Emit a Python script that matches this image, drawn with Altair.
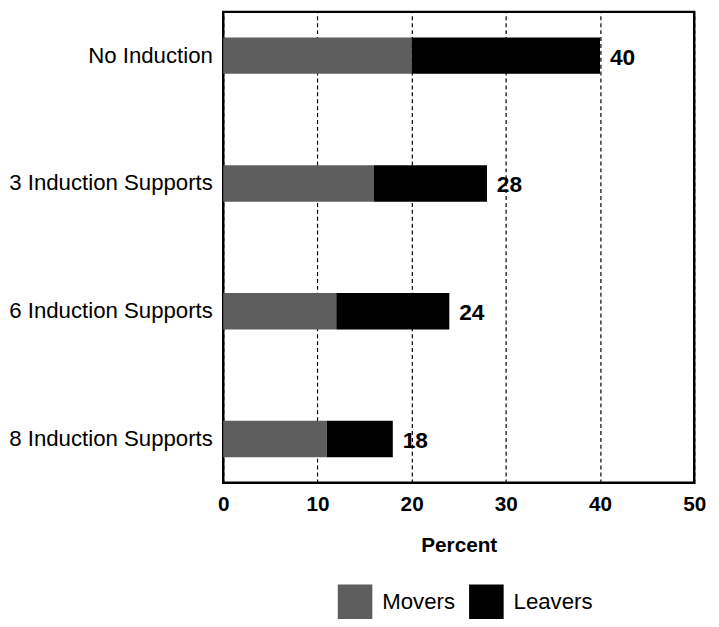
import altair as alt
import pandas as pd

categories = ["No Induction", "3 Induction Supports", "6 Induction Supports", "8 Induction Supports"]
movers = [20, 16, 12, 11]
leavers = [20, 12, 12, 7]
totals = [40, 28, 24, 18]
series = ["Movers", "Leavers"]
colors = ["#5e5e5e", "#000000"]

rows = []
for c, m, l in zip(categories, movers, leavers):
    rows.append({"cat": c, "group": "Movers", "value": m, "ord": 0})
    rows.append({"cat": c, "group": "Leavers", "value": l, "ord": 1})
df = pd.DataFrame(rows)
tot = pd.DataFrame({"cat": categories, "total": totals})

FONT = "Liberation Sans"

yenc = alt.Y("cat:N", sort=categories, title=None,
             scale=alt.Scale(paddingInner=0.715, paddingOuter=0.2),
             axis=alt.Axis(domain=False, ticks=False, labelPadding=11, labelFontSize=22.5,
                           labelColor="black", labelFont=FONT, grid=False, labelLimit=400))

bars = alt.Chart(df).mark_bar().encode(
    x=alt.X("value:Q", stack="zero", title="Percent",
            scale=alt.Scale(domain=[0, 50], nice=False),
            axis=alt.Axis(values=[0, 10, 20, 30, 40, 50], grid=True, gridDash=[4, 3],
                          gridColor="black", gridWidth=1.2, gridOpacity=1,
                          domain=False, ticks=False, labelPadding=11,
                          labelFontSize=21, labelFontWeight="bold", labelColor="black",
                          labelFont=FONT, titleFont=FONT, titleFontSize=21,
                          titleFontWeight="bold", titlePadding=21, titleColor="black",
                          labelFlush=False)),
    y=yenc,
    color=alt.Color("group:N", scale=alt.Scale(domain=series, range=colors),
                    legend=alt.Legend(title=None, orient="none", legendX=116, legendY=580,
                                      direction="horizontal", symbolType="square",
                                      symbolSize=1225, symbolStrokeWidth=0, symbolOpacity=1,
                                      labelFontSize=22.5, labelFont=FONT, labelColor="black",
                                      labelOffset=10, columnPadding=14)),
    order=alt.Order("ord:Q"),
)

labels = alt.Chart(tot).mark_text(align="left", baseline="middle", dx=10, dy=2,
                                  fontSize=23, fontWeight="bold", font=FONT,
                                  color="black").encode(
    x=alt.X("total:Q"),
    y=alt.Y("cat:N", sort=categories),
    text=alt.Text("total:Q"),
)

chart = alt.layer(bars, labels).properties(
    width=477, height=477,
    padding={"left": 0, "top": 0, "right": 5, "bottom": 0},
    background="white",
).configure_view(stroke="black", strokeWidth=2.5)

chart.save("out.html", embed_options={"renderer": "svg", "actions": False})
